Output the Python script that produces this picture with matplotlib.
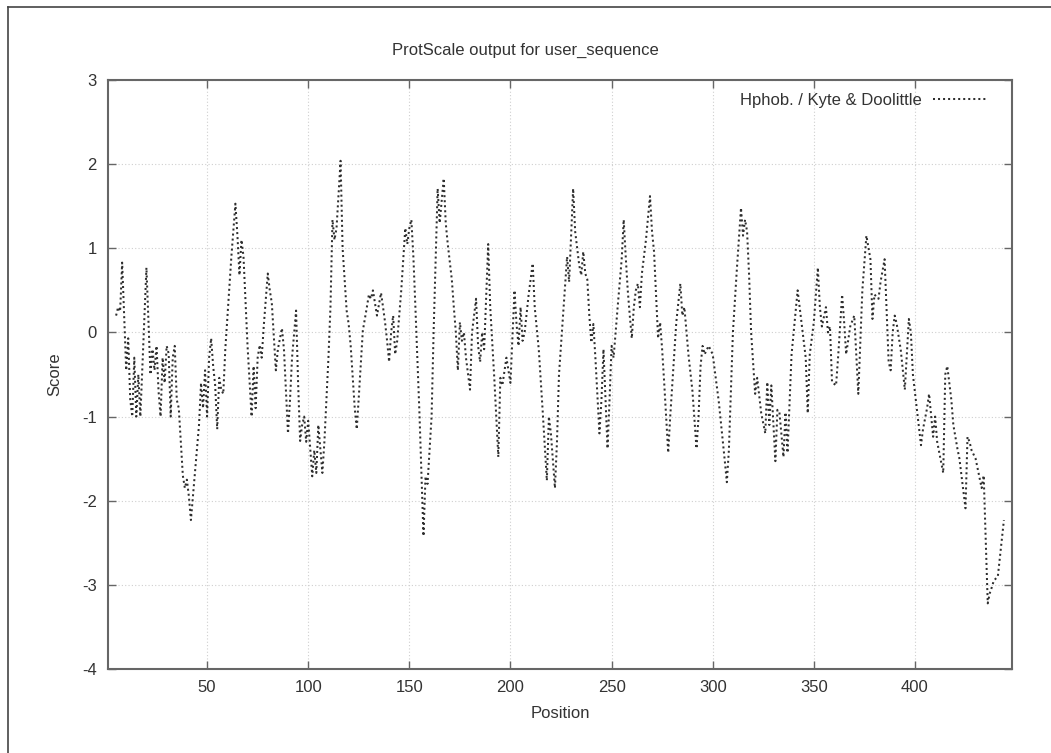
import matplotlib
matplotlib.use("Agg")
import matplotlib.pyplot as plt
from matplotlib.lines import Line2D

plt.rcParams['font.family'] = ['Liberation Sans', 'DejaVu Sans']
plt.rcParams['axes.unicode_minus'] = False

# ---- data (vertices) ----
position = [
    5, 6, 7, 8, 10, 11, 12, 13, 14, 15, 16, 17, 20, 22, 23, 24, 25, 26, 27, 28,
    29, 30, 31, 32, 33, 34, 35, 36, 38, 39, 40, 41, 42, 44, 46, 47, 48, 49, 50, 51,
    52, 53, 54, 55, 56, 57, 58, 59, 62, 64, 65, 66, 67, 68, 70, 72, 73, 74, 75, 76,
    77, 78, 80, 81, 82, 84, 85, 87, 88, 90, 91, 92, 94, 95, 96, 97, 98, 99, 100, 102,
    103, 104, 105, 107, 108, 110, 111, 112, 113, 114, 116, 117, 119, 120, 121, 123, 124, 125, 127, 129,
    130, 131, 132, 133, 134, 136, 137, 138, 139, 140, 141, 142, 143, 144, 146, 148, 149, 150, 151, 152,
    153, 155, 157, 158, 159, 161, 162, 164, 165, 167, 168, 169, 171, 172, 173, 174, 175, 176, 177, 178,
    180, 181, 183, 184, 185, 186, 187, 189, 190, 192, 194, 195, 196, 198, 200, 202, 203, 204, 205, 206,
    207, 209, 211, 212, 214, 216, 218, 219, 220, 222, 223, 224, 226, 228, 229, 231, 232, 233, 234, 235,
    236, 237, 238, 239, 240, 241, 242, 244, 245, 246, 248, 249, 250, 251, 253, 255, 256, 257, 258, 259,
    260, 261, 262, 263, 264, 265, 267, 269, 270, 271, 273, 274, 275, 276, 278, 279, 280, 282, 284, 285,
    286, 288, 290, 292, 293, 294, 295, 296, 298, 300, 303, 306, 307, 308, 309, 310, 312, 314, 315, 316,
    317, 318, 319, 321, 322, 324, 326, 327, 328, 329, 331, 332, 333, 335, 336, 337, 339, 342, 343, 344,
    346, 347, 348, 350, 352, 353, 354, 356, 357, 358, 359, 361, 362, 364, 365, 366, 368, 370, 372, 374,
    376, 378, 379, 380, 382, 383, 385, 387, 388, 389, 390, 391, 393, 395, 397, 398, 399, 401, 403, 404,
    406, 407, 409, 410, 411, 414, 415, 416, 417, 418, 419, 421, 422, 423, 425, 426, 427, 428, 430, 433,
    434, 436, 437, 438, 439, 441, 444,
]
score = [
    0.2, 0.3, 0.25, 0.83, -0.45, -0.07, -0.8, -1.0, -0.3, -1.0, -0.5, -1.0, 0.77, -0.5, -0.2, -0.45, -0.16, -0.7, -1.0, -0.3,
    -0.6, -0.16, -0.25, -1.0, -0.3, -0.16, -0.8, -0.9, -1.7, -1.85, -1.75, -1.95, -2.23, -1.67, -1.1, -0.6, -0.9, -0.45, -1.0, -0.3,
    -0.07, -0.4, -0.63, -1.15, -0.54, -0.68, -0.73, -0.2, 0.9, 1.53, 1.15, 0.68, 1.1, 0.9, -0.16, -1.0, -0.4, -0.9, -0.3, -0.15,
    -0.3, 0.07, 0.7, 0.5, 0.35, -0.45, -0.2, 0.05, -0.2, -1.2, -0.8, -0.3, 0.26, -0.6, -1.29, -1.1, -1.0, -1.3, -1.05, -1.71,
    -1.4, -1.67, -1.1, -1.67, -1.3, -0.3, 0.3, 1.34, 1.1, 1.24, 2.04, 1.0, 0.26, 0.1, -0.16, -0.9, -1.15, -0.77, 0.02, 0.3,
    0.45, 0.4, 0.5, 0.35, 0.2, 0.47, 0.3, 0.12, -0.1, -0.35, 0.0, 0.2, -0.26, -0.1, 0.5, 1.24, 1.05, 1.24, 1.34, 0.9,
    0.3, -0.96, -2.42, -1.71, -1.8, -1.0, 0.0, 1.71, 1.3, 1.83, 1.3, 1.05, 0.63, 0.3, 0.0, -0.45, 0.12, -0.1, 0.0, -0.3,
    -0.68, 0.0, 0.4, -0.16, -0.35, 0.0, -0.2, 1.05, 0.3, -0.54, -1.48, -0.54, -0.63, -0.3, -0.6, 0.5, 0.1, -0.16, 0.3, -0.1,
    0.0, 0.45, 0.82, 0.3, -0.2, -0.96, -1.76, -1.0, -1.2, -1.85, -1.3, -0.5, 0.2, 0.9, 0.6, 1.71, 1.2, 1.0, 0.8, 0.68,
    0.96, 0.7, 0.63, 0.2, -0.12, 0.1, -0.3, -1.2, -0.8, -0.2, -1.38, -0.8, -0.16, -0.3, 0.3, 0.87, 1.34, 0.9, 0.5, 0.2,
    -0.07, 0.3, 0.5, 0.58, 0.3, 0.7, 1.1, 1.62, 1.2, 0.96, -0.07, 0.12, -0.2, -0.59, -1.43, -1.0, -0.63, 0.12, 0.58, 0.2,
    0.3, -0.26, -0.7, -1.38, -1.0, -0.4, -0.16, -0.26, -0.16, -0.26, -0.82, -1.53, -1.78, -1.4, -0.7, 0.0, 0.77, 1.48, 1.15, 1.34,
    1.2, 0.68, 0.0, -0.73, -0.54, -0.96, -1.2, -0.59, -1.1, -0.63, -1.53, -0.92, -0.95, -1.48, -0.95, -1.43, -0.26, 0.5, 0.3, 0.1,
    -0.3, -0.96, -0.26, 0.12, 0.77, 0.3, 0.07, 0.3, 0.0, 0.07, -0.59, -0.63, -0.3, 0.45, 0.12, -0.26, 0.07, 0.2, -0.73, 0.5,
    1.15, 0.87, 0.16, 0.45, 0.4, 0.6, 0.87, -0.35, -0.45, 0.0, 0.2, 0.1, -0.21, -0.68, 0.16, 0.0, -0.5, -0.92, -1.34, -1.15,
    -0.9, -0.73, -1.24, -1.0, -1.3, -1.67, -0.5, -0.4, -0.6, -0.8, -1.1, -1.38, -1.5, -1.7, -2.09, -1.24, -1.3, -1.4, -1.5, -1.85,
    -1.7, -3.22, -3.1, -3.03, -2.95, -2.9, -2.23,
]
x_ticks = [50, 100, 150, 200, 250, 300, 350, 400]
y_ticks = [-4, -3, -2, -1, 0, 1, 2, 3]
series_label = "Hphob. / Kyte & Doolittle"
title_text = "ProtScale output for user_sequence"

W, H = 1051, 753
fig = plt.figure(figsize=(W / 100, H / 100), dpi=100)
ax = fig.add_axes([108 / W, 1 - 669 / H, 904 / W, 589 / H])

frame_col = '#666666'
text_col = '#333333'

ax.plot(position, score, color='#2e2e2e', linewidth=1.45,
        linestyle=(0, (1, 1.5)), label=series_label)

ax.set_xlim(1, 448)
ax.set_ylim(-4, 3)
ax.set_xticks(x_ticks)
ax.set_yticks(y_ticks)
ax.grid(True, color='#cfcfcf', linestyle=(0, (1, 2)), linewidth=0.8)
ax.tick_params(direction='in', length=6, width=1, top=True, right=True,
               colors=frame_col, labelcolor=text_col, labelsize=12, pad=8)
for s in ax.spines.values():
    s.set_color(frame_col)
    s.set_linewidth(1.5)

ax.set_xlabel('Position', fontsize=12, color=text_col, labelpad=8)
ax.set_ylabel('Score', fontsize=12, color=text_col, labelpad=14)
fig.text(525 / W, 1 - 50 / H, title_text, ha='center', va='center',
         fontsize=12, color=text_col)

leg = ax.legend(loc='upper right', bbox_to_anchor=(1 - 12 / 904, 1),
                frameon=False, markerfirst=False,
                handlelength=3.3, fontsize=12, borderaxespad=0.35,
                handletextpad=0.65)
for t in leg.get_texts():
    t.set_color(text_col)

# outer picture border (left and top edges)
fig.add_artist(Line2D([8 / W, 8 / W], [0, 1 - 7 / H], transform=fig.transFigure,
                      color='#444444', linewidth=1.2))
fig.add_artist(Line2D([8 / W, 1], [1 - 7 / H, 1 - 7 / H], transform=fig.transFigure,
                      color='#444444', linewidth=1.2))

fig.savefig('out.png', dpi=100)
